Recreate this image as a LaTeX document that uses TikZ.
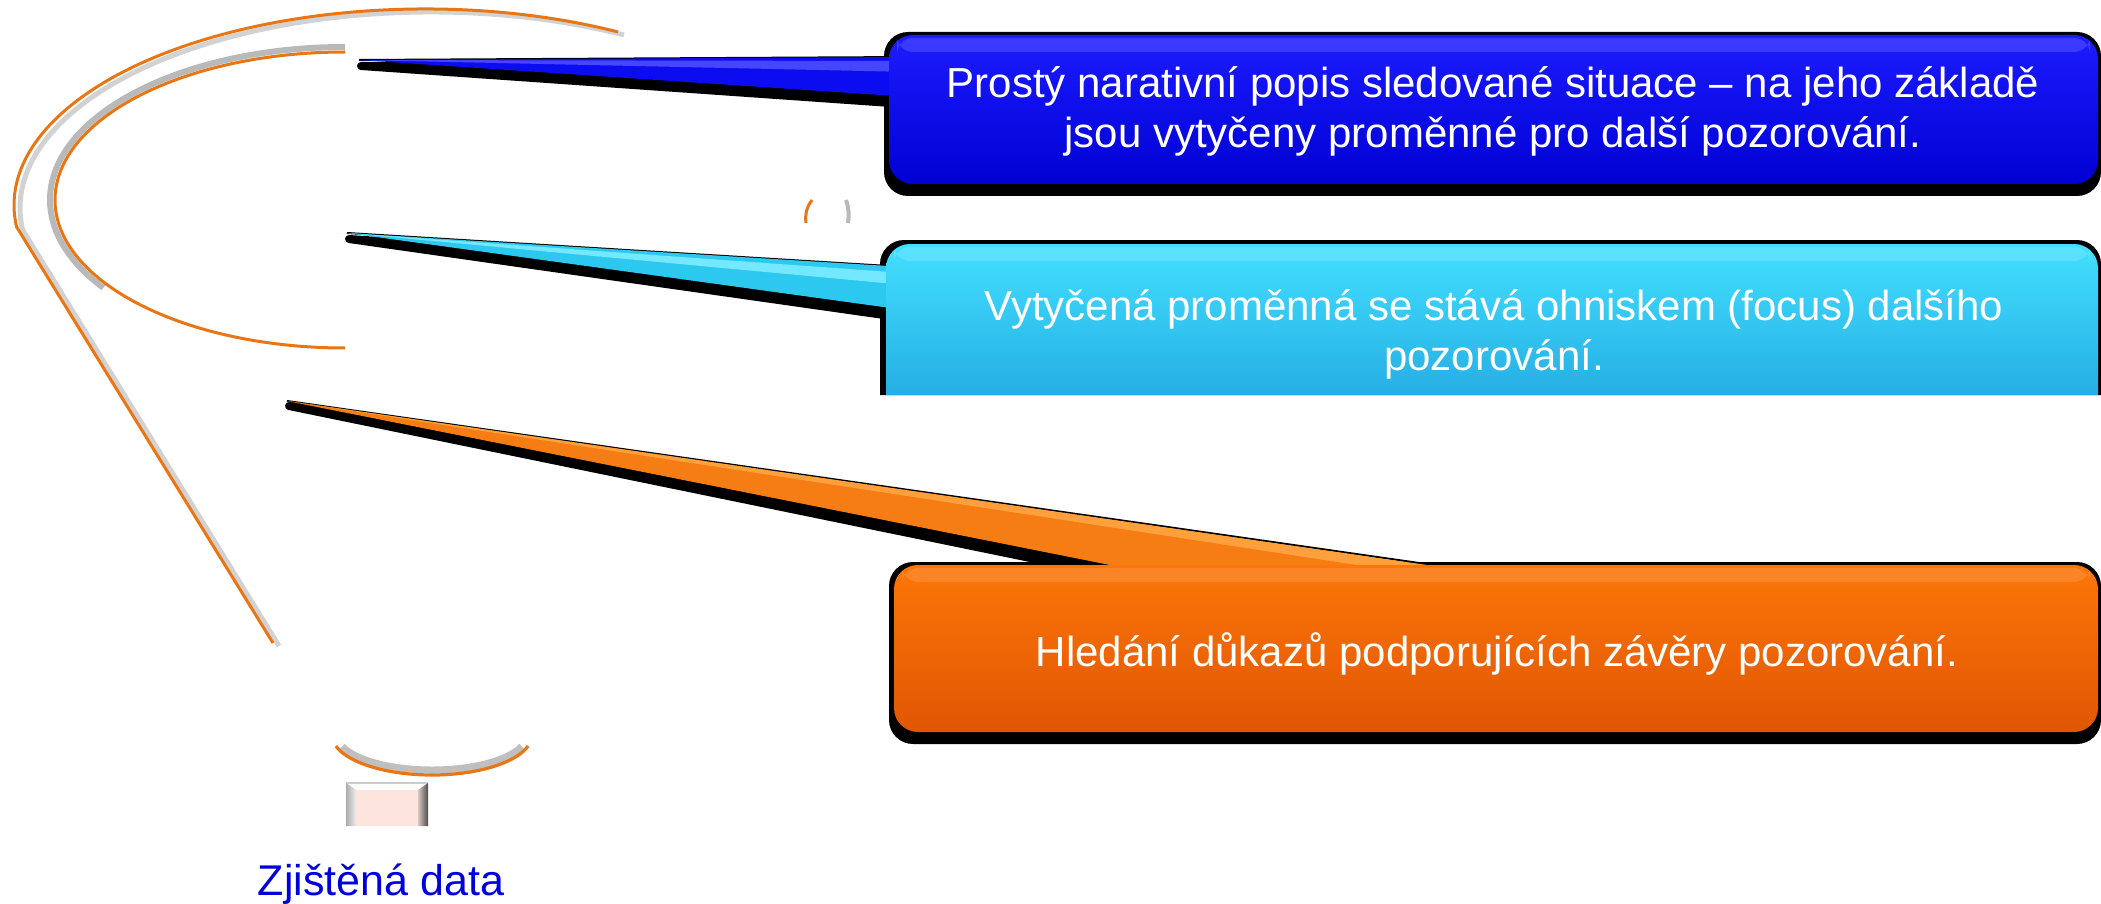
\documentclass[tikz,border=0pt]{standalone}
\usepackage{fontspec}
\setmainfont{Liberation Sans}
\pgfdeclarelayer{shadowL}
\pgfdeclarelayer{tailL}
\pgfdeclarelayer{boxL}
\pgfsetlayers{shadowL,tailL,boxL,main}
\definecolor{bxblueT}{RGB}{28,28,255}
\definecolor{bxblueB}{RGB}{0,0,212}
\definecolor{bxcyanT}{RGB}{66,224,255}
\definecolor{bxcyanB}{RGB}{38,174,228}
\definecolor{bxorT}{RGB}{252,118,8}
\definecolor{bxorB}{RGB}{224,86,4}
\definecolor{tailblue}{RGB}{12,12,240}
\definecolor{tailblueL}{RGB}{70,70,255}
\definecolor{tailcyan}{RGB}{45,200,240}
\definecolor{tailcyanL}{RGB}{115,232,255}
\definecolor{tailor}{RGB}{245,125,20}
\definecolor{tailorL}{RGB}{255,160,60}
\definecolor{arcor}{RGB}{232,118,20}
\definecolor{lblblue}{RGB}{0,0,220}
\definecolor{pinkfill}{RGB}{253,228,220}
\tikzset{
  boxtext/.style={text=white, align=center, inner sep=0pt, font=\fontsize{21pt}{25pt}\selectfont},
  arcline/.style={draw=arcor, line width=1.5pt},
  arcshade/.style={draw=gray!45, line width=2.5pt},
  tailshadow/.style={fill=black, draw=black, line width=4pt, line join=round},
  boxshadow/.style={fill=black, rounded corners=12pt},
}
\begin{document}
\begin{tikzpicture}[x=0.5pt,y=-0.5pt]
\useasboundingbox (0,0) rectangle (2101,904);

% ---------- text nodes ----------
\node[boxtext] (b1) at (1493,111) {Prostý narativní popis sledované situace – na jeho základě\\jsou vytyčeny proměnné pro další pozorování.};
\node[boxtext] (b2) at (1494,334) {Vytyčená proměnná se stává ohniskem (focus) dalšího\\pozorování.};
\node[boxtext] (b3) at (1497,654) {Hledání důkazů podporujících závěry pozorování.};
\node[font=\fontsize{21.5pt}{26pt}\selectfont, text=lblblue, anchor=base, inner sep=0pt] (zd) at (381,895) {Zjištěná data};

% box corners
\coordinate (b1nw) at (889,35);  \coordinate (b1se) at (2098,184);
\coordinate (b3nw) at (894,565); \coordinate (b3se) at (2098,732);
% tail tips
\coordinate (tip1) at (359,60);
\coordinate (tip2) at (347,233);
\coordinate (tip3) at (287,401);

% ---------- shadows ----------
\begin{pgfonlayer}{shadowL}
  \fill[boxshadow] ([shift={(-5,-3)}]b1nw) rectangle ([shift={(3,12)}]b1se);
  \fill[black] (880,395) -- (880,300) {[rounded corners=12pt] -- (880,240) -- (2101,240) -- (2101,300)} -- (2101,395) -- cycle;
  \fill[boxshadow] ([shift={(-5,-3)}]b3nw) rectangle ([shift={(3,12)}]b3se);
  \filldraw[tailshadow] ([shift={(2,6)}]tip1) -- (905,64) -- (905,104) -- cycle;
  \filldraw[tailshadow] ([shift={(2,6)}]tip2) -- (905,274) -- (905,318) -- cycle;
  \filldraw[tailshadow] ([shift={(2,5)}]tip3) -- (1380,570) -- (1040,560) -- cycle;
\end{pgfonlayer}

% ---------- tails ----------
\begin{pgfonlayer}{tailL}
  \draw[black, line width=1pt, line join=round] (tip1) -- (910,57);
  \fill[tailblue] (tip1) -- (910,57) -- (910,97) -- cycle;
  \fill[tailblueL] (tip1) -- (910,61) -- (910,72) -- cycle;
  \draw[black, line width=1pt] (tip2) -- (905,267);
  \fill[tailcyan] (tip2) -- (905,267) -- (905,310) -- cycle;
  \fill[tailcyanL] (tip2) -- (905,273) -- (905,285) -- cycle;
  \draw[black, line width=1pt] (tip3) -- (1440,566);
  \fill[tailor] (tip3) -- (1440,567) -- (1120,567) -- cycle;
  \fill[tailorL] (tip3) -- (1440,567) -- (1370,567) -- cycle;
\end{pgfonlayer}

% ---------- boxes ----------
\begin{pgfonlayer}{boxL}
  \shade[top color=bxblueT, bottom color=bxblueB, rounded corners=12pt] (b1nw) rectangle (b1se);
  \fill[white, opacity=0.14, rounded corners=8pt] (897,38) rectangle (2090,52);
  \shade[top color=bxcyanT, bottom color=bxcyanB] (886,395) -- (886,300) {[rounded corners=12pt] -- (886,244) -- (2098,244) -- (2098,300)} -- (2098,395) -- cycle;
  \fill[white, opacity=0.14, rounded corners=8pt] (894,247) rectangle (2090,261);
  \shade[top color=bxorT, bottom color=bxorB, rounded corners=12pt] (b3nw) rectangle (b3se);
  \fill[white, opacity=0.12, rounded corners=8pt] (902,568) rectangle (2090,582);
\end{pgfonlayer}

% ---------- bulb outline ----------
% outer arc and neck
\draw[arcshade, draw=gray!35, shift={(6,3)}] ([shift={(-62:411 and 196)}]425,205) arc[start angle=-62, end angle=-186.4, x radius=411, y radius=196] -- (273,643);
\draw[arcline] ([shift={(-62:411 and 196)}]425,205) arc[start angle=-62, end angle=-186.4, x radius=411, y radius=196] -- (273,643);
% inner arc
\draw[arcshade, draw=gray!55, line width=3pt] ([shift={(-90:295 and 153)}]345,200) arc[start angle=-90, end angle=-215, x radius=295, y radius=153];
\draw[arcline] ([shift={(-90:290 and 148)}]345,200) arc[start angle=-90, end angle=-270, x radius=290, y radius=148];
% small fragments
\draw[arcline] (812,200) .. controls (806,208) and (805,215) .. (806,223);
\draw[arcshade, draw=gray!55, line width=2pt] (846,200) .. controls (849,208) and (849,215) .. (848,223);
% lower arc
\draw[draw=gray!50, line width=3.5pt] ([shift={(19:95 and 35)}]432,735) arc[start angle=19, end angle=161, x radius=95, y radius=35];
\draw[draw=arcor, line width=1.6pt] ([shift={(16:100 and 40)}]432,735) arc[start angle=16, end angle=164, x radius=100, y radius=40];

% ---------- small bevelled square ----------
\fill[pinkfill] (346,783) rectangle (428,826);
\fill[white!92!pinkfill] (346,783) -- (428,783) -- (418,790) -- (356,790) -- cycle;
\draw[gray!40, line width=0.6pt] (346,783) -- (428,783);
\shade[left color=gray!65, right color=gray!15] (346,783) -- (356,790) -- (356,826) -- (346,826) -- cycle;
\shade[left color=gray!30!pinkfill, right color=black!70] (418,790) -- (428,783) -- (428,826) -- (418,826) -- cycle;

\end{tikzpicture}
\end{document}
